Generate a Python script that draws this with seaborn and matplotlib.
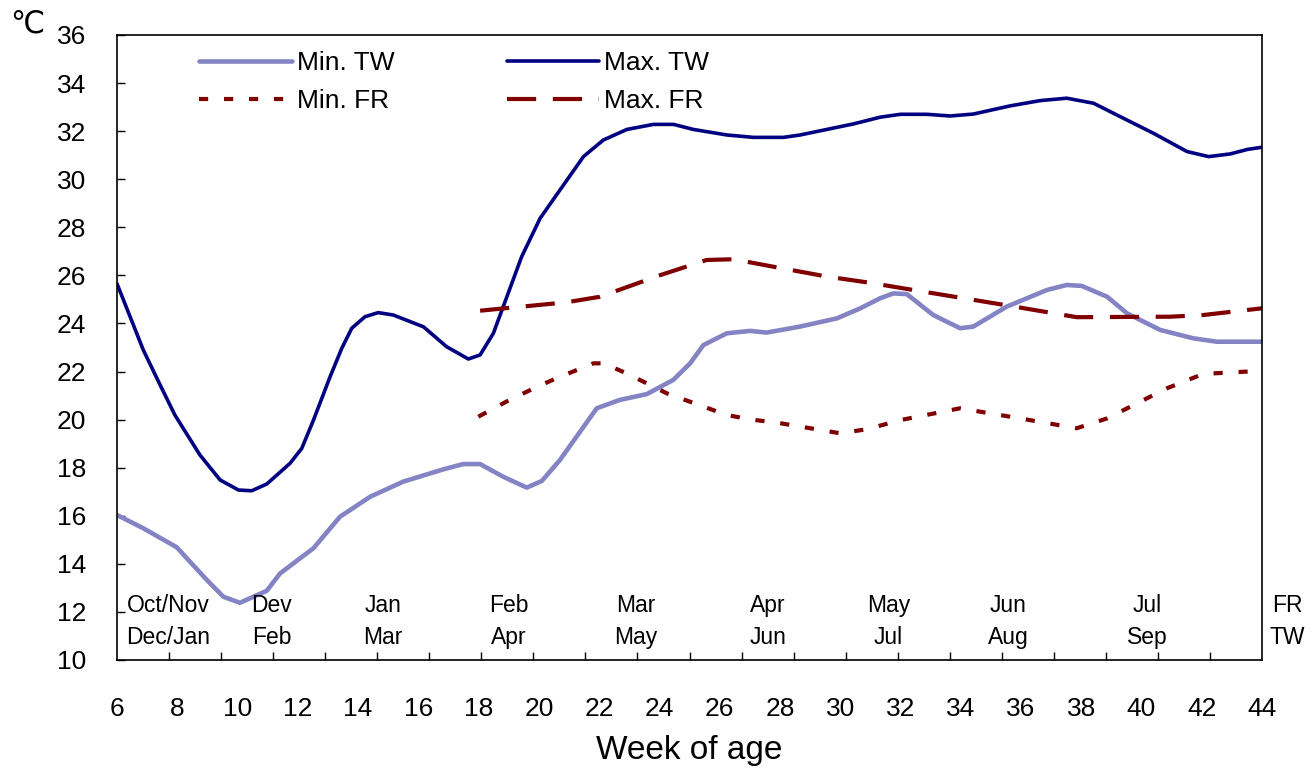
import numpy as np
import seaborn as sns
from matplotlib import pyplot as plt

# Max. TW
max_tw_week = [6.0, 6.87, 7.43, 7.92, 8.75, 9.42, 10.03, 10.47, 10.97, 11.74, 12.13, 12.52, 13.07,
               13.46, 13.79, 14.23, 14.67, 15.17, 16.17, 16.94, 17.66, 18.05, 18.49, 19.43, 20.04,
               20.7, 21.48, 22.14, 22.92, 23.8, 24.47, 25.13, 26.24, 27.12, 28.12, 28.67, 30.44,
               31.33, 32.0, 32.87, 33.65, 34.42, 35.64, 36.64, 37.52, 38.41, 39.52, 40.4, 41.51,
               42.23, 42.94, 43.52, 44.0]
max_tw = [25.65, 22.9, 21.44, 20.19, 18.53, 17.49, 17.07, 17.04, 17.32, 18.18, 18.8, 19.98, 21.78,
          22.97, 23.8, 24.28, 24.45, 24.35, 23.86, 23.03, 22.52, 22.69, 23.59, 26.78, 28.37, 29.55,
          30.94, 31.63, 32.07, 32.28, 32.28, 32.07, 31.84, 31.74, 31.74, 31.84, 32.3, 32.58, 32.7,
          32.7, 32.63, 32.71, 33.05, 33.27, 33.37, 33.16, 32.46, 31.91, 31.15, 30.94, 31.05, 31.24,
          31.33]

# Min. TW
min_tw_week = [6.0, 6.87, 7.98, 8.42, 8.98, 9.53, 10.08, 10.97, 11.41, 12.52, 13.4, 14.4, 15.5,
               16.83, 17.49, 18.05, 18.82, 19.6, 20.1, 20.7, 21.92, 22.69, 23.58, 24.46, 25.02,
               25.46, 26.24, 27.01, 27.56, 28.67, 29.89, 30.67, 31.33, 31.77, 32.21, 33.09, 33.98,
               34.42, 35.53, 36.86, 37.52, 38.02, 38.86, 39.52, 40.62, 41.72, 42.5, 44.0]
min_tw = [16.03, 15.48, 14.69, 14.09, 13.33, 12.63, 12.38, 12.88, 13.6, 14.65, 15.96, 16.79, 17.42,
          17.93, 18.15, 18.15, 17.62, 17.17, 17.45, 18.32, 20.47, 20.82, 21.06, 21.65, 22.34, 23.1,
          23.59, 23.69, 23.62, 23.87, 24.21, 24.63, 25.05, 25.25, 25.22, 24.35, 23.8, 23.87, 24.7,
          25.39, 25.6, 25.56, 25.11, 24.42, 23.73, 23.38, 23.24, 23.24]

# Min. FR
min_fr_week = [17.99, 19.0, 20.0, 20.7, 21.81, 22.14, 22.92, 24.25, 26.24, 27.01, 28.01, 30.0,
               30.89, 32.0, 33.98, 35.97, 37.85, 38.86, 40.84, 42.05, 44.0]
min_fr = [20.12, 20.8, 21.4, 21.78, 22.34, 22.34, 21.92, 21.09, 20.19, 20.01, 19.85, 19.43, 19.6,
          19.98, 20.47, 20.05, 19.64, 20.05, 21.3, 21.9, 22.03]

# Max. FR
max_fr_week = [18.05, 20.92, 22.03, 24.03, 25.57, 26.46, 27.78, 29.56, 30.94, 32.87, 35.64, 37.85,
               40.95, 42.05, 44.0]
max_fr = [24.53, 24.88, 25.11, 26.01, 26.64, 26.67, 26.36, 25.95, 25.7, 25.3, 24.73, 24.26, 24.28,
          24.35, 24.63]

# month labels (FR row / TW row)
month_pos = [7.69, 11.14, 14.83, 19.01, 23.23, 27.6, 31.6, 35.57, 40.2, 44.83]
months_fr = ["Oct/Nov", "Dev", "Jan", "Feb", "Mar", "Apr", "May", "Jun", "Jul", "FR"]
months_tw = ["Dec/Jan", "Feb", "Mar", "Apr", "May", "Jun", "Jul", "Aug", "Sep", "TW"]

sns.set_style("white")
plt.rcParams["font.family"] = ["Liberation Sans", "DejaVu Sans"]
plt.rcParams["text.color"] = "black"
plt.rcParams["xtick.color"] = "black"
plt.rcParams["ytick.color"] = "black"
plt.rcParams["axes.labelcolor"] = "black"

fig = plt.figure(figsize=(13.15, 7.72), dpi=100)
ax = fig.add_axes([0.089, 0.1451, 0.8707, 0.8096])

sns.lineplot(x=min_tw_week, y=min_tw, ax=ax, color="#8484C4", lw=3.3, label="Min. TW")
sns.lineplot(x=min_fr_week, y=min_fr, ax=ax, color="#800000", lw=3.0, label="Min. FR")
sns.lineplot(x=max_tw_week, y=max_tw, ax=ax, color="#000080", lw=2.6, label="Max. TW")
sns.lineplot(x=max_fr_week, y=max_fr, ax=ax, color="#800000", lw=3.0, label="Max. FR")
ax.lines[1].set_dashes((2.2, 3.8))
ax.lines[3].set_dashes((7, 4))
for ln in ax.lines:
    ln.set_solid_joinstyle("round")
    ln.set_dash_joinstyle("round")

ax.set_xlim(6, 44)
ax.set_ylim(10, 36)
ax.set_yticks(np.arange(10, 37, 2))
ax.set_xticks(np.arange(6, 45, 2))
ax.set_xticks(np.linspace(6, 44, 23), minor=True)
ax.tick_params(axis="x", which="major", length=0, pad=27, labelsize=19)
ax.tick_params(axis="x", which="minor", direction="in", length=6, width=1, color="black",
               bottom=True)
ax.tick_params(axis="y", direction="in", length=6, width=1, color="black", left=True,
               pad=22, labelsize=19)
for s in ax.spines.values():
    s.set_color("black")
    s.set_linewidth(1.2)

ax.set_xlabel("Week of age", fontsize=24, labelpad=10)
ax.set_ylabel("")

for xp, a, b in zip(month_pos, months_fr, months_tw):
    ax.text(xp, 12.25, a, ha="center", va="center", fontsize=16.5, clip_on=False)
    ax.text(xp, 10.95, b, ha="center", va="center", fontsize=16.5, clip_on=False)

fig.text(27 / 1315, 1 - 24 / 772, "\u2103", ha="center", va="center", fontsize=22)

h, l = ax.get_legend_handles_labels()
ax.legend(h, l, ncol=2, frameon=False, loc="upper left", bbox_to_anchor=(0.058, 1.0),
          fontsize=19, handlelength=3.5, handletextpad=0.2, columnspacing=4.25,
          labelspacing=0.55, borderaxespad=0.2)

fig.savefig("out.png", dpi=100)
